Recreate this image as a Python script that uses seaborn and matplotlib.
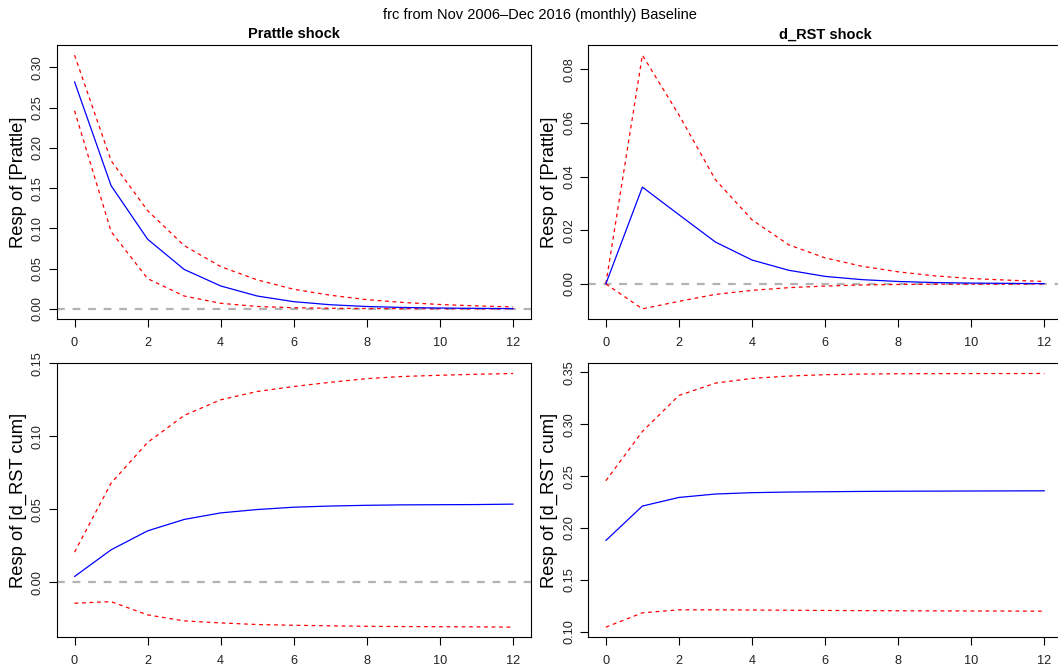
import numpy as np
import pandas as pd
import matplotlib
matplotlib.use("Agg")
import matplotlib.pyplot as plt
import seaborn as sns

# ---------------- data ----------------
horizon = [0, 1, 2, 3, 4, 5, 6, 7, 8, 9, 10, 11, 12]

# Prattle shock -> Prattle
p_p_irf = [0.282, 0.153, 0.0865, 0.049, 0.0285, 0.016, 0.009, 0.0052, 0.003, 0.0018, 0.0011, 0.0007, 0.0004]
p_p_up = [0.315, 0.184, 0.122, 0.0786, 0.0525, 0.036, 0.0244, 0.017, 0.0115, 0.008, 0.0055, 0.0038, 0.0025]
p_p_lo = [0.246, 0.096, 0.0376, 0.016, 0.007, 0.003, 0.0015, 0.0008, 0.0005, 0.0003, 0.0002, 0.0001, 0.0001]

# d_RST shock -> Prattle
r_p_irf = [0.0, 0.0361, 0.0258, 0.0156, 0.0089, 0.0051, 0.0028, 0.0016, 0.0009, 0.0005, 0.0003, 0.0002, 0.0001]
r_p_up = [0.0, 0.0853, 0.063, 0.0388, 0.0239, 0.0146, 0.0097, 0.0066, 0.0045, 0.003, 0.002, 0.0014, 0.0009]
r_p_lo = [0.0, -0.0093, -0.0065, -0.0039, -0.0024, -0.0014, -0.0008, -0.0004, -0.0002, -0.0001, -0.0001, -0.0001, 0.0]

# Prattle shock -> d_RST cum
p_r_irf = [0.0039, 0.0222, 0.0352, 0.043, 0.0475, 0.0498, 0.0514, 0.0522, 0.0527, 0.053, 0.0531, 0.0532, 0.0535]
p_r_up = [0.0206, 0.0679, 0.0958, 0.1143, 0.125, 0.1307, 0.1341, 0.137, 0.1395, 0.141, 0.1418, 0.1425, 0.143]
p_r_lo = [-0.0144, -0.0133, -0.0224, -0.0265, -0.0279, -0.029, -0.0295, -0.0299, -0.0302, -0.0304, -0.0305, -0.0306, -0.0308]

# d_RST shock -> d_RST cum
r_r_irf = [0.188, 0.2212, 0.2295, 0.2328, 0.2341, 0.2347, 0.235, 0.2353, 0.2355, 0.2356, 0.2357, 0.2358, 0.2359]
r_r_up = [0.2456, 0.2931, 0.3278, 0.3397, 0.3442, 0.3465, 0.3478, 0.3484, 0.3487, 0.3488, 0.3489, 0.3489, 0.349]
r_r_lo = [0.1045, 0.1183, 0.1212, 0.1212, 0.121, 0.1208, 0.1206, 0.1204, 0.1203, 0.1202, 0.1201, 0.12, 0.1199]

main_title = "frc from Nov 2006\u2013Dec 2016 (monthly) Baseline"
col_titles = ["Prattle shock", "d_RST shock"]
row_labels = ["Resp of [Prattle]", "Resp of [d_RST cum]"]
y_ticks = {
    (0, 0): [0.00, 0.05, 0.10, 0.15, 0.20, 0.25, 0.30],
    (0, 1): [0.00, 0.02, 0.04, 0.06, 0.08],
    (1, 0): [0.00, 0.05, 0.10, 0.15],
    (1, 1): [0.10, 0.15, 0.20, 0.25, 0.30, 0.35],
}
x_ticks = [0, 2, 4, 6, 8, 10, 12]

panels = {
    (0, 0): (p_p_irf, p_p_up, p_p_lo),
    (0, 1): (r_p_irf, r_p_up, r_p_lo),
    (1, 0): (p_r_irf, p_r_up, p_r_lo),
    (1, 1): (r_r_irf, r_r_up, r_r_lo),
}

# ---------------- style ----------------
sns.set_theme(style="white")
plt.rcParams["font.family"] = ["Liberation Sans", "DejaVu Sans"]
plt.rcParams["axes.edgecolor"] = "black"
plt.rcParams["axes.linewidth"] = 0.8

W, H = 1058, 669
fig = plt.figure(figsize=(W / 100, H / 100), dpi=100)

ax_w = 473.7
ax_h = 274.0
lefts = [57.0, 588.3]
tops = [45.0, 363.3]

for (r, c), (irf, up, lo) in panels.items():
    left = lefts[c]
    top = tops[r]
    ax = fig.add_axes([left / W, (H - top - ax_h) / H, ax_w / W, ax_h / H])
    ax.axhline(0, color="#b3b3b3", lw=1.6, linestyle=(0, (3.5, 3.5)), zorder=1)
    df = pd.DataFrame({"h": horizon, "irf": irf, "up": up, "lo": lo})
    sns.lineplot(data=df, x="h", y="up", ax=ax, color="red", lw=0.9,
                 linestyle=(0, (3, 3)), zorder=2)
    sns.lineplot(data=df, x="h", y="lo", ax=ax, color="red", lw=0.9,
                 linestyle=(0, (3, 3)), zorder=2)
    sns.lineplot(data=df, x="h", y="irf", ax=ax, color="blue", lw=0.9, zorder=3)

    allv = np.array(irf + up + lo)
    lo_v, hi_v = allv.min(), allv.max()
    ext = 0.04 * (hi_v - lo_v)
    ax.set_ylim(lo_v - ext, hi_v + ext)
    ax.set_xlim(-0.48, 12.48)

    ax.set_xticks(x_ticks)
    ax.set_xticklabels([str(t) for t in x_ticks])
    yt = y_ticks[(r, c)]
    ax.set_yticks(yt)
    ax.set_yticklabels([f"{t:.2f}" for t in yt])
    for lbl in ax.get_yticklabels():
        lbl.set_rotation(90)
        lbl.set_va("center")
    ax.tick_params(axis="both", direction="out", length=5.5, width=0.8,
                   color="black", labelsize=9.2, labelcolor="#222222",
                   left=True, bottom=True)
    ax.tick_params(axis="x", pad=7.5)
    ax.tick_params(axis="y", pad=4.0)
    ax.set_xlabel("")
    ax.set_ylabel("")
    for s in ax.spines.values():
        s.set_visible(True)
        s.set_color("black")
        s.set_linewidth(0.8)

    ax.text(-38.5 / ax_w, 0.5, row_labels[r], transform=ax.transAxes,
            rotation=90, ha="center", va="center", fontsize=13.2, color="black")
    if r == 0:
        ax.text(0.5, 1 + 10.5 / ax_h, col_titles[c], transform=ax.transAxes,
                ha="center", va="center", fontsize=10.5, fontweight="bold",
                color="black")

fig.text(540 / W, 1 - 15.5 / H, main_title, ha="center", va="center",
         fontsize=10.5, color="black")

fig.savefig("out.png", dpi=100)
